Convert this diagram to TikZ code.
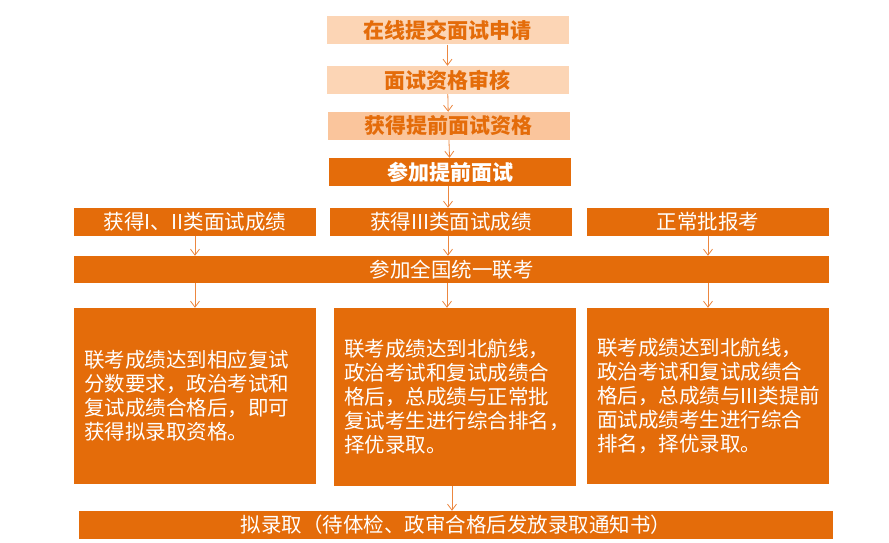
\documentclass[tikz,border=0pt]{standalone}
\usepackage{fontspec}
\setmainfont{Noto Sans CJK SC}
\usetikzlibrary{arrows.meta}
\definecolor{darkorange}{HTML}{E46C0A}
\definecolor{paleorange}{HTML}{FCD5B5}
\definecolor{peach}{HTML}{FAC59C}
\definecolor{linkorange}{HTML}{EC8740}

\begin{document}
\begin{tikzpicture}[x=1pt, y=-1pt,
    box/.style={fill=darkorange, text=white, inner sep=0pt, minimum width=242pt, minimum height=28pt, font=\fontsize{20.5}{24}\selectfont},
    topbox/.style={box, fill=paleorange, text=darkorange, font=\fontsize{21}{24}\selectfont\bfseries},
    notebox/.style={box, minimum height=176pt, text width=222pt, inner xsep=10pt, align=left},
    link/.style={draw=linkorange, line width=.8pt, -{Straight Barb[length=6pt, width=9pt]}}]
    \useasboundingbox (0,0) rectangle (889,543);
    % early interview path
    \node[topbox] (apply) at (447.5,30.5) {在线提交面试申请};
    \node[topbox] (review) at (447.5,80) {面试资格审核};
    \node[topbox, fill=peach] (qualify) at (448.5,126) {获得提前面试资格};
    \node[box, font=\fontsize{21}{24}\selectfont\bfseries] (interview) at (450,172) {参加提前面试};
    % results
    \node[box] (gradeA) at (195,222) {获得I、II类面试成绩};
    \node[box] (gradeB) at (451,222) {获得III类面试成绩};
    \node[box] (normal) at (708,222) {正常批报考};
    \node[box, minimum width=755pt, minimum height=27pt] (exam) at (451.5,269.5) {参加全国统一联考};
    % notes
    \node[notebox] (noteA) at (195,396) {联考成绩达到相应复试\\分数要求，政治考试和\\复试成绩合格后，即可\\获得拟录取资格。};
    \node[notebox, minimum height=178pt] (noteB) at (455,397) {联考成绩达到北航线，\\政治考试和复试成绩合\\格后，总成绩与正常批\\复试考生进行综合排名，\\择优录取。};
    \node[notebox] (noteC) at (708,396) {联考成绩达到北航线，\\政治考试和复试成绩合\\格后，总成绩与III类提前\\面试成绩考生进行综合\\排名，择优录取。};
    \node[box, minimum width=754pt] (admit) at (456,525) {拟录取（待体检、政审合格后发放录取通知书）};
    % arrows
    \draw[link] (apply) -- (review);
    \draw[link] (review) -- (qualify);
    \draw[link] (qualify) -- (interview);
    \draw[link] (interview.south -| 448,0) -- (gradeB.north -| 448,0);
    \draw[link] (gradeA) -- (gradeA.south |- exam.north);
    \draw[link] (gradeB.south -| 448,0) -- (exam.north -| 448,0);
    \draw[link] (normal) -- (normal.south |- exam.north);
    \draw[link] (exam.south -| noteA) -- (noteA);
    \draw[link] (exam.south -| 447,0) -- (noteB.north -| 447,0);
    \draw[link] (exam.south -| noteC) -- (noteC);
    \draw[link] (noteB.south -| 452,0) -- (admit.north -| 452,0);
\end{tikzpicture}
\end{document}
